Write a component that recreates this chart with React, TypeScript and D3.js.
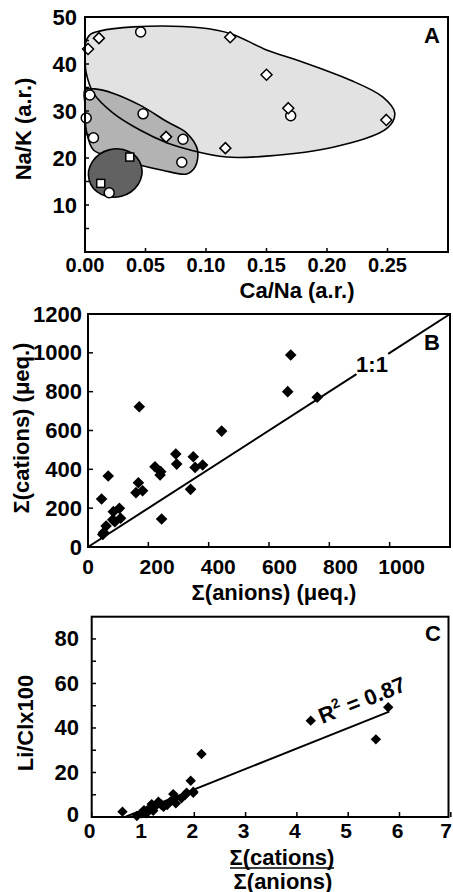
import React from "react";
import * as d3 from "d3";

// ---------- Panel A data ----------
const aDiamonds: [number, number][] = [
  [0.0025, 43.2], [0.0115, 45.5], [0.12, 45.7], [0.15, 37.7], [0.168, 30.6],
  [0.067, 24.5], [0.116, 22.1], [0.249, 28.1],
];
const aCircles: [number, number][] = [
  [0.046, 46.8], [0.004, 33.4], [0.001, 28.5], [0.048, 29.4], [0.007, 24.3],
  [0.081, 24.0], [0.080, 19.1], [0.170, 29.0], [0.020, 12.6],
];
const aSquares: [number, number][] = [[0.037, 20.2], [0.013, 14.6]];
const blobBig: [number, number][] = [
  [0, 44.0], [0.004, 46.2], [0.012, 47.0], [0.040, 47.9], [0.095, 47.7], [0.121, 46.4],
  [0.150, 43.0], [0.178, 40.6], [0.219, 36.6], [0.246, 33.0], [0.256, 29.6], [0.250, 26.4],
  [0.205, 22.3], [0.150, 20.4], [0.117, 20.2], [0.087, 21.7], [0.068, 23.2], [0.045, 26.0],
  [0.023, 29.6], [0.007, 33.8], [0.001, 38.1], [0, 41.3],
];
const blobMid: [number, number][] = [
  [0, 34.5], [0.008, 34.7], [0.023, 33.8], [0.045, 31.3], [0.068, 27.7], [0.084, 25.3],
  [0.093, 21.7], [0.091, 18.1], [0.084, 16.6], [0.064, 17.4], [0.045, 18.5], [0.023, 20.2],
  [0.007, 21.7], [0.001, 26.0], [0, 31.3],
];
const blobSmall = { cx: 0.025, cy: 16.8, rx: 0.0223, ry: 5.1 };
const aXTicks = [0, 0.05, 0.1, 0.15, 0.2, 0.25];
const aYTicks = [5, 10, 15, 20, 25, 30, 35, 40, 45, 50];
const aYLabels = [10, 20, 30, 40, 50];

// ---------- Panel B data ----------
const bAnions = [45, 67, 49, 60, 84, 104, 89, 108, 167, 159, 181, 222, 241, 239, 244, 291, 294, 349, 355, 380, 340, 170, 443, 672, 662, 760, 82, 52];
const bCations = [247, 366, 65, 108, 182, 199, 130, 148, 331, 280, 290, 413, 388, 371, 144, 479, 427, 465, 410, 422, 297, 722, 597, 989, 800, 771, 140, 75];
const bTicks = [0, 200, 400, 600, 800, 1000, 1200];
const bXLabels = [0, 200, 400, 600, 800, 1000];

// ---------- Panel C data ----------
const cRatio = [0.60, 0.88, 0.97, 1.02, 1.17, 1.20, 1.14, 1.35, 1.40, 1.47, 1.53, 1.59, 1.64, 1.62, 1.75, 1.82, 1.85, 1.98, 1.93, 2.14, 4.27, 5.54, 5.78, 1.30, 1.07, 1.27, 1.36, 1.98];
const cLiCl = [2.4, 0.4, 1.7, 3.1, 5.8, 2.8, 4.3, 5.8, 4.6, 5.4, 6.9, 10.3, 6.1, 8.4, 8.4, 9.9, 10.9, 10.9, 16.3, 28.3, 43.3, 34.9, 49.3, 6.9, 1.7, 5.5, 5.4, 11.4];
const cFit = { slope: 9.2, intercept: -6.0, xEnd: 5.8 };
const cXTicks = [0, 1, 2, 3, 4, 5, 6, 7];
const cYTicks = [10, 20, 30, 40, 50, 60, 70, 80];
const cYLabels = [0, 20, 40, 60, 80];

const FONT = "'Liberation Sans', Arial, Helvetica, sans-serif";
const fs = 22;
const fsX = 20;

const diamondPath = (cx: number, cy: number, r: number) =>
  `M${cx},${cy - r}L${cx + r},${cy}L${cx},${cy + r}L${cx - r},${cy}Z`;

function PanelA() {
  const x = d3.scaleLinear().domain([0, 0.3]).range([85, 448]);
  const y = d3.scaleLinear().domain([0, 50]).range([252, 17]);
  const line = d3.line<[number, number]>().x(d => x(d[0])).y(d => y(d[1])).curve(d3.curveCatmullRomClosed.alpha(0.5));
  return (
    <g>
      <path d={line(blobBig) || ""} fill="#e2e2e2" stroke="none" />
      <path d={line(blobMid) || ""} fill="#b3b3b3" stroke="none" />
      <path d={line(blobBig) || ""} fill="none" stroke="#000" strokeWidth={1.6} />
      <path d={line(blobMid) || ""} fill="none" stroke="#000" strokeWidth={1.6} />
      <ellipse cx={x(blobSmall.cx)} cy={y(blobSmall.cy)} rx={x(blobSmall.rx) - x(0)} ry={y(0) - y(blobSmall.ry)}
        fill="#626262" stroke="#000" strokeWidth={1.6} transform={`rotate(-15 ${x(blobSmall.cx)} ${y(blobSmall.cy)})`} />
      {aCircles.map((d, i) => (
        <circle key={"c" + i} cx={x(d[0])} cy={y(d[1])} r={5} fill="#fff" stroke="#000" strokeWidth={1.5} />
      ))}
      {aDiamonds.map((d, i) => (
        <path key={"d" + i} d={diamondPath(x(d[0]), y(d[1]), 5.5)} fill="#fff" stroke="#000" strokeWidth={1.5} />
      ))}
      {aSquares.map((d, i) => (
        <rect key={"s" + i} x={x(d[0]) - 4} y={y(d[1]) - 4} width={8} height={8} fill="#fff" stroke="#000" strokeWidth={1.5} />
      ))}
      <rect x={85} y={17} width={363} height={235} fill="none" stroke="#000" strokeWidth={2} />
      {aYTicks.map(t => <line key={"yt" + t} x1={85} x2={89} y1={y(t)} y2={y(t)} stroke="#000" strokeWidth={1.5} />)}
      {aXTicks.map(t => <line key={"xt" + t} x1={x(t)} x2={x(t)} y1={252} y2={248} stroke="#000" strokeWidth={1.5} />)}
      {aYLabels.map(t => (
        <text key={"yl" + t} x={77} y={y(t)} textAnchor="end" dominantBaseline="central">{t}</text>
      ))}
      {aXTicks.map(t => (
        <text key={"xl" + t} x={x(t)} y={265} fontSize={fsX} textAnchor="middle" dominantBaseline="central">{t.toFixed(2)}</text>
      ))}
      <text x={297} y={290} textAnchor="middle" dominantBaseline="central">Ca/Na (a.r.)</text>
      <text transform="translate(23,129) rotate(-90)" textAnchor="middle" dominantBaseline="central">Na/K (a.r.)</text>
      <text x={432} y={35} textAnchor="middle" dominantBaseline="central">A</text>
    </g>
  );
}

function PanelB() {
  const x = d3.scaleLinear().domain([0, 1200]).range([88, 450]);
  const y = d3.scaleLinear().domain([0, 1200]).range([547, 314]);
  const gapA = 890, gapB = 995;
  return (
    <g>
      <line x1={x(0)} y1={y(0)} x2={x(gapA)} y2={y(gapA)} stroke="#000" strokeWidth={2} />
      <line x1={x(gapB)} y1={y(gapB)} x2={x(1200)} y2={y(1200)} stroke="#000" strokeWidth={2} />
      {bAnions.map((a, i) => (
        <path key={i} d={diamondPath(x(a), y(bCations[i]), 5.8)} fill="#000" />
      ))}
      <rect x={88} y={314} width={362} height={233} fill="none" stroke="#000" strokeWidth={2} />
      {bTicks.map(t => <line key={"yt" + t} x1={88} x2={93} y1={y(t)} y2={y(t)} stroke="#000" strokeWidth={1.5} />)}
      {bTicks.map(t => <line key={"xt" + t} x1={x(t)} x2={x(t)} y1={547} y2={542} stroke="#000" strokeWidth={1.5} />)}
      {bTicks.map(t => (
        <text key={"yl" + t} x={82} y={y(t)} textAnchor="end" dominantBaseline="central">{t}</text>
      ))}
      {bXLabels.map(t => (
        <text key={"xl" + t} x={x(t) + (t > 0 ? 8 + (t / 1000) * 4 : 0)} y={566} fontSize={21} textAnchor="middle" dominantBaseline="central">{t}</text>
      ))}
      <text x={274} y={592} textAnchor="middle" dominantBaseline="central">Σ(anions) (μeq.)</text>
      <text transform="translate(21,428) rotate(-90)" textAnchor="middle" dominantBaseline="central">Σ(cations) (μeq.)</text>
      <text x={372} y={364} textAnchor="middle" dominantBaseline="central">1:1</text>
      <text x={432} y={342} textAnchor="middle" dominantBaseline="central">B</text>
    </g>
  );
}

function PanelC() {
  const x = d3.scaleLinear().domain([0, 7]).range([91.7, 450.8]);
  const y = d3.scaleLinear().domain([0, 90]).range([817, 616.7]);
  const x0 = -cFit.intercept / cFit.slope;
  return (
    <g>
      <line x1={x(x0)} y1={y(0)} x2={x(cFit.xEnd)} y2={y(cFit.slope * cFit.xEnd + cFit.intercept)} stroke="#000" strokeWidth={2} />
      {cRatio.map((r, i) => (
        <path key={i} d={diamondPath(x(r), y(cLiCl[i]), 5.2)} fill="#000" />
      ))}
      <rect x={91.7} y={616.7} width={356.8} height={200.3} fill="none" stroke="#000" strokeWidth={2} />
      {cYTicks.map(t => <line key={"yt" + t} x1={91.7} x2={96} y1={y(t)} y2={y(t)} stroke="#000" strokeWidth={1.5} />)}
      {cXTicks.map(t => <line key={"xt" + t} x1={x(t)} x2={x(t)} y1={817} y2={812} stroke="#000" strokeWidth={1.5} />)}
      {cYLabels.map(t => (
        <text key={"yl" + t} x={79} y={t === 0 ? 814 : y(t)} textAnchor="end" dominantBaseline="central">{t}</text>
      ))}
      {cXTicks.map(t => (
        <text key={"xl" + t} x={t === 7 ? 452 : x(t) - 2} y={830} fontSize={21}
          textAnchor={t === 7 ? "end" : "middle"} dominantBaseline="central">{t}</text>
      ))}
      <text x={282} y={857} textAnchor="middle" dominantBaseline="central">Σ(cations)</text>
      <line x1={230} x2={334} y1={868} y2={868} stroke="#000" strokeWidth={1.5} />
      <text x={283} y={881} textAnchor="middle" dominantBaseline="central">Σ(anions)</text>
      <text transform="translate(25,723) rotate(-90)" textAnchor="middle" dominantBaseline="central">Li/Clx100</text>
      <text transform="translate(362,700) rotate(-22)" textAnchor="middle" dominantBaseline="central">
        R<tspan dy={-7} fontSize={14}>2</tspan><tspan dy={7}> = 0.87</tspan>
      </text>
      <text x={433} y={633} textAnchor="middle" dominantBaseline="central">C</text>
    </g>
  );
}

export default function App() {
  return (
    <svg width={453} height={892} style={{ position: "absolute", left: 0, top: 0, background: "#fff" }}
      fontFamily={FONT} fontWeight="bold" fontSize={fs}>
      <rect x={0} y={0} width={453} height={892} fill="#fff" />
      <PanelA />
      <PanelB />
      <PanelC />
    </svg>
  );
}
